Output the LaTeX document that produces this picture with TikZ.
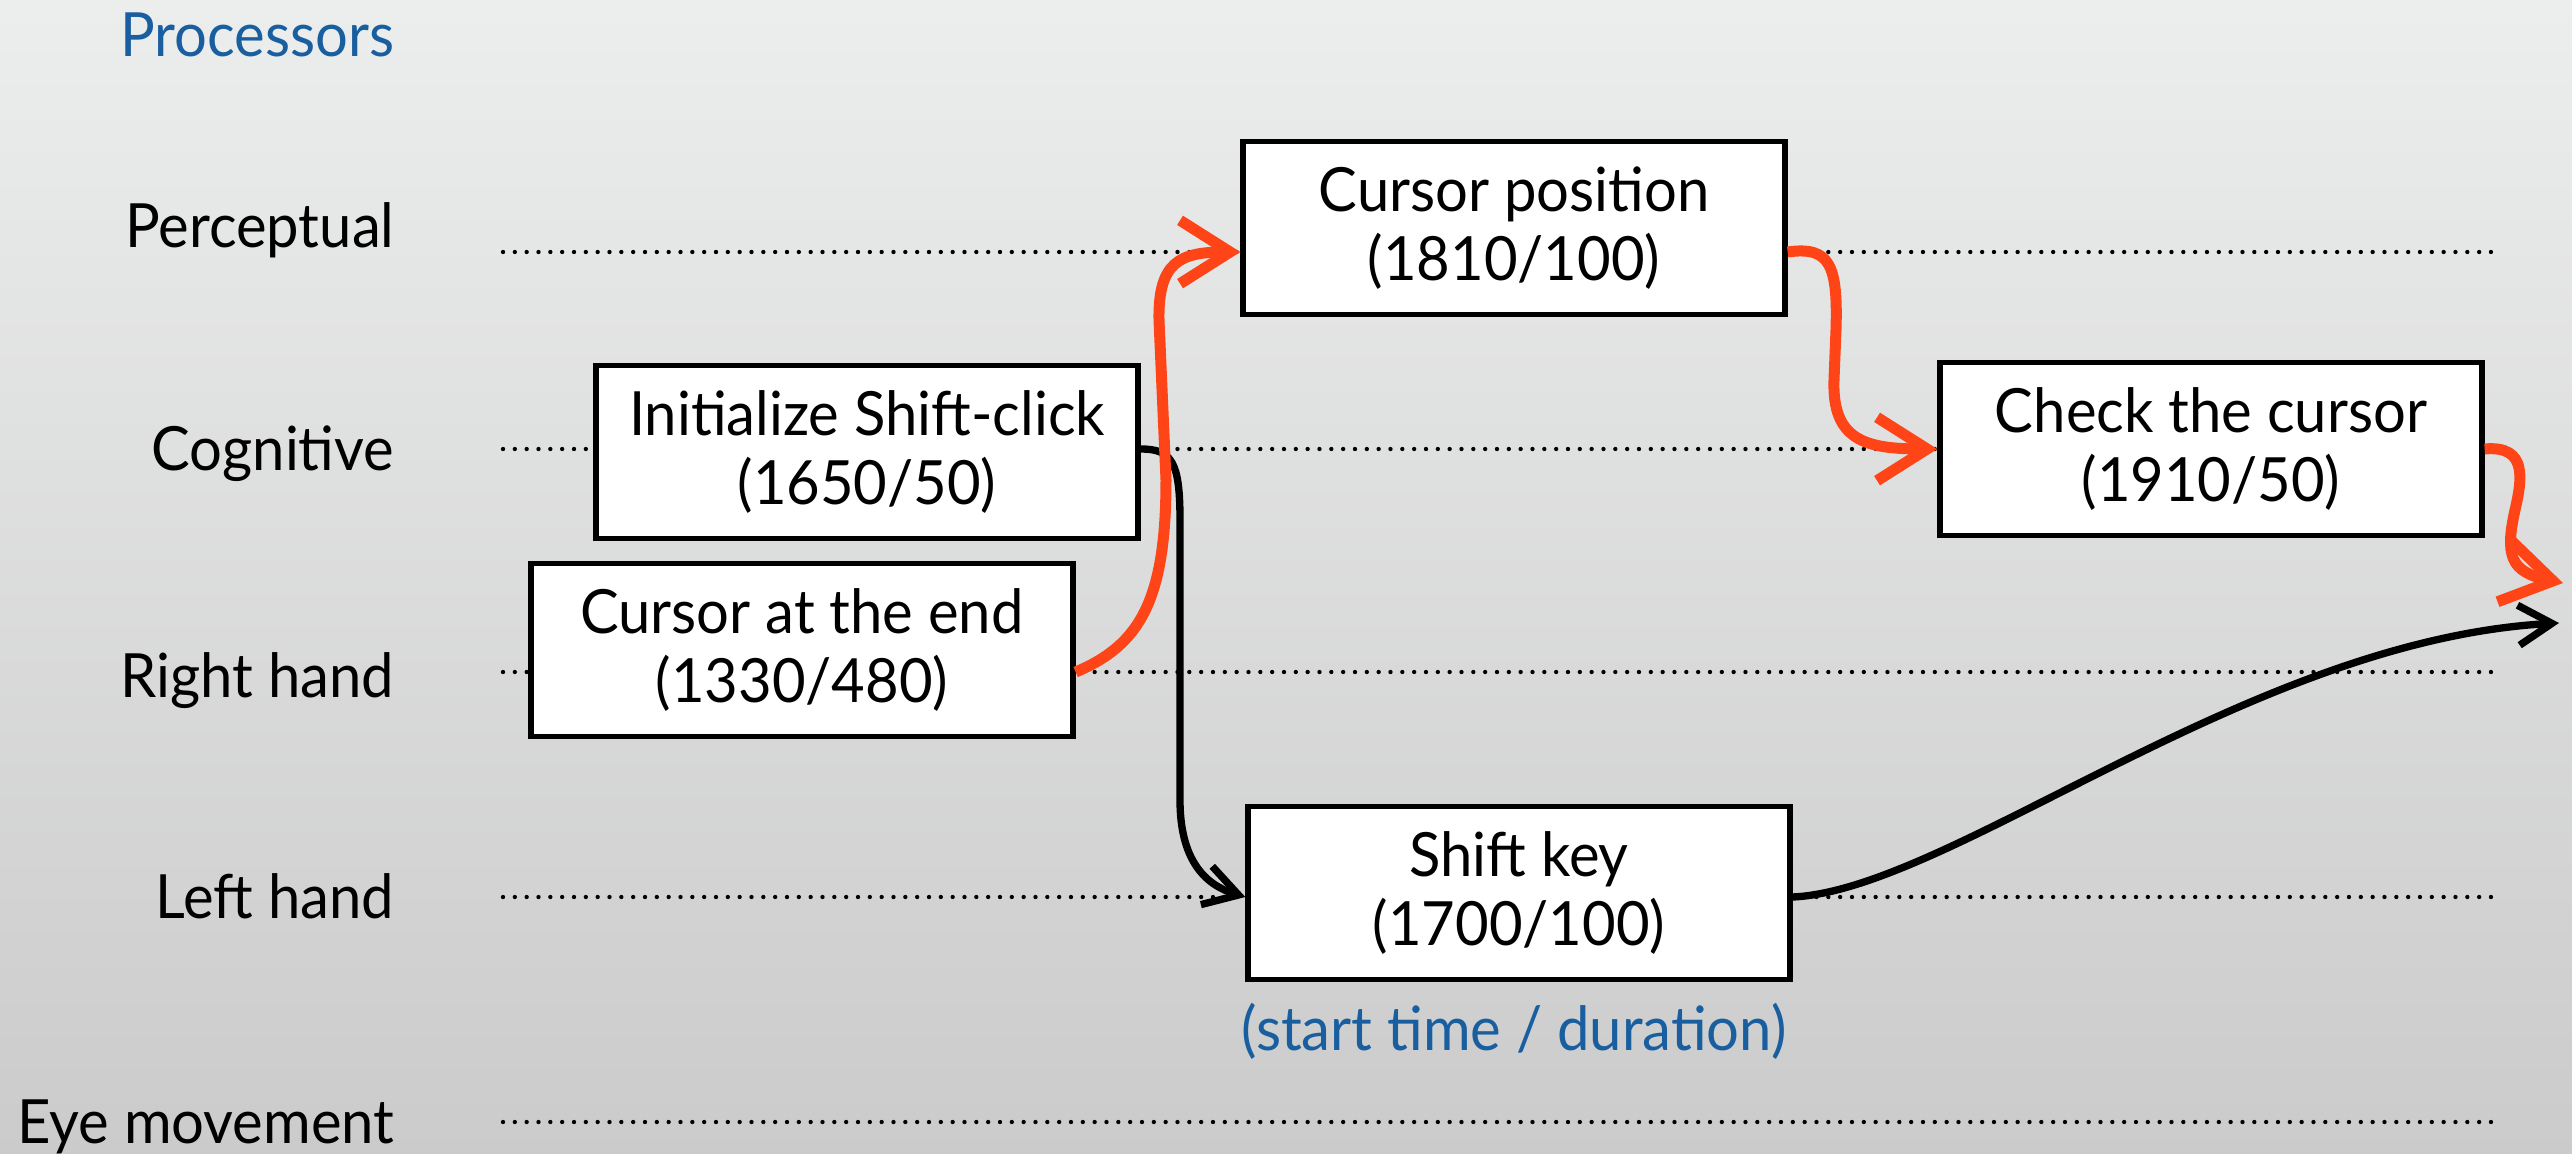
\documentclass[tikz,border=0pt]{standalone}
\usepackage{fontspec}
\setmainfont[FakeStretch=0.95]{Lato}
\usetikzlibrary{arrows.meta,calc}
\definecolor{bgtop}{RGB}{236,237,237}
\definecolor{bgbot}{RGB}{203,203,203}
\definecolor{hdblue}{RGB}{25,95,160}
\definecolor{flowred}{RGB}{255,69,23}
\newcommand\txtfont{\fontsize{18.3}{20.7}\selectfont}
\tikzset{
  lane/.style={line width=1.3pt, dash pattern=on 0pt off 3.55pt, line cap=round},
  procbox/.style={draw, line width=1.6pt, fill=white, minimum width=162.6pt,
    minimum height=51.8pt, inner sep=0pt, align=center, font=\txtfont},
  lanelabel/.style={anchor=base east, inner sep=0pt, font=\txtfont},
  redflow/.style={draw=flowred, line width=3.3pt,
    -{Straight Barb[length=15pt,width=19pt]}},
  blackflow/.style={draw=black, line width=2.2pt,
    -{Straight Barb[length=10pt,width=12pt]}},
}
\begin{document}
\begin{tikzpicture}[x=0.3pt, y=-0.3pt]
\useasboundingbox (0,0) rectangle (2572,1154);
\shade[top color=bgtop, bottom color=bgbot] (0,0) rectangle (2572,1154);

% lane labels
\node[lanelabel, text=hdblue] (proc) at (395,56) {Processors};
\node[lanelabel] (lperc) at (395,247) {Perceptual};
\node[lanelabel] (lcog) at (395,470) {Cognitive};
\node[lanelabel] (lrh) at (395,697) {Right hand};
\node[lanelabel] (llh) at (395,918) {Left hand};
\node[lanelabel] (leye) at (395,1143) {Eye movement};

% lane lines
\coordinate (percL) at (503,252);  \coordinate (percR) at (2502,252);
\coordinate (cogL) at (503,449);   \coordinate (cogR) at (2502,449);
\coordinate (rhL) at (503,672);    \coordinate (rhR) at (2502,672);
\coordinate (lhL) at (503,897);    \coordinate (lhR) at (2502,897);
\coordinate (eyeL) at (503,1122);  \coordinate (eyeR) at (2502,1122);
\draw[lane] (percL) -- (percR);
\draw[lane] (cogL) -- (cogR);
\draw[lane] (rhL) -- (rhR);
\draw[lane] (lhL) -- (lhR);
\draw[lane] (eyeL) -- (eyeR);

% operator boxes
\node[procbox] (cpos) at (1514,228) {Cursor position\\(1810/100)};
\node[procbox] (init) at (867,452) {Initialize Shift-click\\(1650/50)};
\node[procbox] (cend) at (802,650) {Cursor at the end\\(1330/480)};
\node[procbox] (check) at (2211,449) {Check the cursor\\(1910/50)};
\node[procbox] (shift) at (1519,893) {Shift key\\(1700/100)};
\node[font=\txtfont, text=hdblue, anchor=base, inner sep=0pt] (legend) at (1514,1050) {(start time / duration)};

% free ends of the outgoing arrows
\coordinate (out1) at (2563,583);
\coordinate (out2) at (2559,623);

% black connectors
\draw[blackflow] (init.east |- cogL) .. controls (1172,449) and (1180,462) .. (1180,520)
  -- (1180,800) .. controls (1180,860) and (1205,885) .. (shift.west |- lhL);
\draw[blackflow] (shift.east |- lhL) .. controls (1950,890) and (2250,640) .. (out2);

% red connectors (critical path)
\draw[redflow] (cend.east |- rhL) .. controls (1140,645) and (1166,600) .. (1166,480)
  -- (1159,320) .. controls (1158,262) and (1180,252) .. (cpos.west |- percL);
\draw[redflow] (cpos.east |- percL) .. controls (1830,246) and (1838,265) .. (1836,330)
  -- (1834,380) .. controls (1832,440) and (1865,449) .. (check.west);
\draw[redflow] (check.east) .. controls (2528,445) and (2522,480) .. (2515,510)
  .. controls (2505,555) and (2510,572) .. (out1);
\end{tikzpicture}
\end{document}
